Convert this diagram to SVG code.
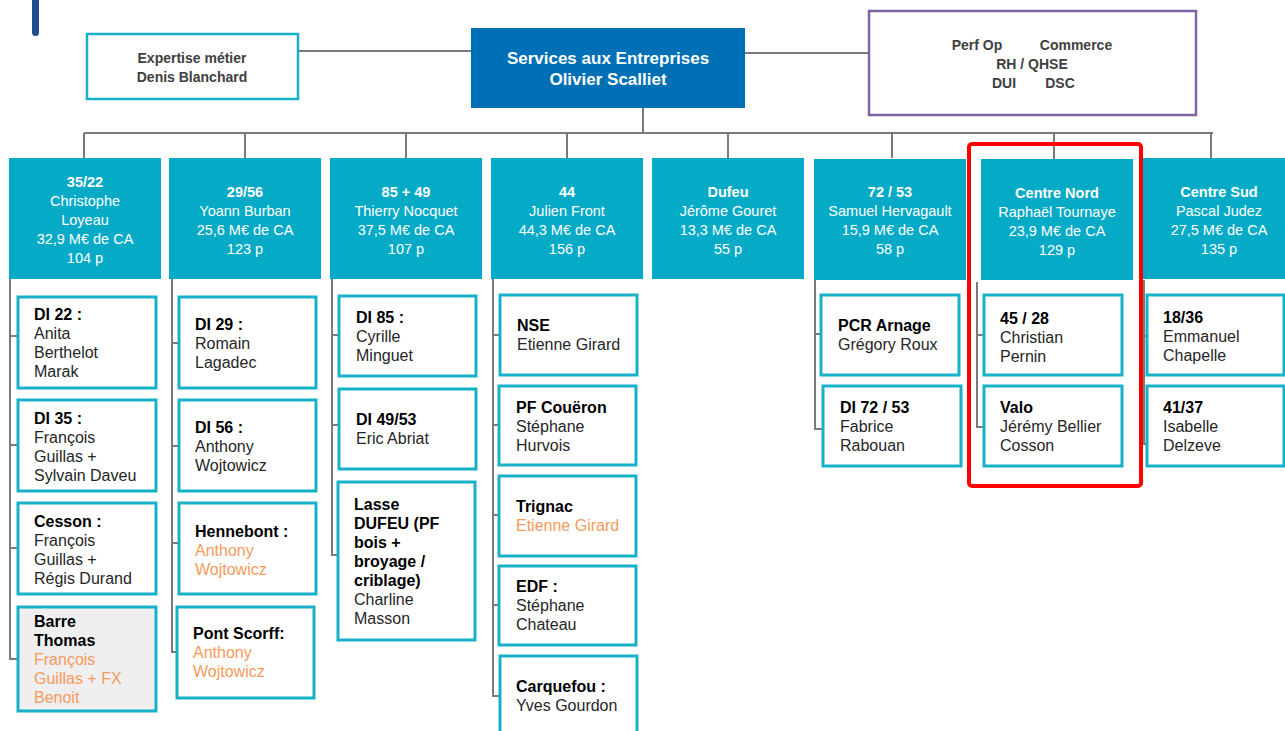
<svg xmlns="http://www.w3.org/2000/svg" width="1285" height="731" viewBox="0 0 1285 731">
<style>
.hd{fill:#05aac6}
.ht{font-family:"Liberation Sans",Arial,sans-serif;font-size:14.5px;fill:#ffffff;text-anchor:middle}
.ht .b{font-weight:bold}
.sb{fill:#ffffff;stroke:#17b1c9;stroke-width:3}
.st{font-family:"Liberation Sans",Arial,sans-serif;font-size:16px;fill:#262626}
.st .b{font-weight:bold;fill:#000000}
.st .o{fill:#f79a5c}
.cn{fill:none;stroke:#7a7a7a;stroke-width:2}
.tt{font-family:"Liberation Sans",Arial,sans-serif;font-size:14px;font-weight:bold;fill:#404040;text-anchor:middle}
</style>
<rect width="1285" height="731" fill="#ffffff"/>
<rect x="32" y="-6" width="7" height="42" rx="3.5" fill="#1f4e8c"/>

<g id="connectors">
<path class="cn" d="M298,51H471M745,53H868M643,108V133M84,133H1213M84,133V158M245,133V158M406,133V158M567,133V158M728,133V158M892,133V158M1054,133V159M1211,133V159"/>
<path class="cn" d="M10,279V659H17M10,336H17M10,445H17M10,548H17"/>
<path class="cn" d="M172,279V652H177M172,343H179M172,446H179M172,543H179"/>
<path class="cn" d="M332,279V555H338M332,335H339M332,425H339"/>
<path class="cn" d="M493,279V696H500M493,335H500M493,425H500M493,515H500M493,605H500"/>
<path class="cn" d="M815,280V429H823M815,334H821"/>
<path class="cn" d="M977,282V427H984M977,335H984"/>
<path class="cn" d="M1144,280V444H1147M1144,336H1147"/>
</g>

<g id="expertise">
<rect x="87" y="34" width="211" height="65" fill="#ffffff" stroke="#17b1c9" stroke-width="2.5"/>
<text class="tt" x="192" y="63">Expertise métier</text>
<text class="tt" x="192" y="82">Denis Blanchard</text>
</g>

<g id="main">
<rect x="471" y="28" width="274" height="80" fill="#0070b6"/>
<text x="608" y="64" font-family="Liberation Sans,Arial,sans-serif" font-size="17" font-weight="bold" fill="#ffffff" text-anchor="middle">Services aux Entreprises</text>
<text x="608" y="85" font-family="Liberation Sans,Arial,sans-serif" font-size="17" font-weight="bold" fill="#ffffff" text-anchor="middle">Olivier Scalliet</text>
</g>

<g id="support">
<rect x="869" y="11" width="327" height="104" fill="#ffffff" stroke="#8064a2" stroke-width="2.5"/>
<text class="tt" x="977" y="50">Perf Op</text>
<text class="tt" x="1076" y="50">Commerce</text>
<text class="tt" x="1032" y="69">RH / QHSE</text>
<text class="tt" x="1004" y="88">DUI</text>
<text class="tt" x="1060" y="88">DSC</text>
</g>

<g id="h1"><rect class="hd" x="9" y="158" width="152" height="121"/>
<text class="ht"><tspan class="b" x="85" y="187">35/22</tspan><tspan x="85" y="206">Christophe</tspan><tspan x="85" y="225">Loyeau</tspan><tspan x="85" y="244">32,9 M€ de CA</tspan><tspan x="85" y="263">104 p</tspan></text></g>
<g id="h2"><rect class="hd" x="169" y="158" width="152" height="121"/>
<text class="ht"><tspan class="b" x="245" y="197">29/56</tspan><tspan x="245" y="216">Yoann Burban</tspan><tspan x="245" y="235">25,6 M€ de CA</tspan><tspan x="245" y="254">123 p</tspan></text></g>
<g id="h3"><rect class="hd" x="330" y="158" width="152" height="121"/>
<text class="ht"><tspan class="b" x="406" y="197">85 + 49</tspan><tspan x="406" y="216">Thierry Nocquet</tspan><tspan x="406" y="235">37,5 M€ de CA</tspan><tspan x="406" y="254">107 p</tspan></text></g>
<g id="h4"><rect class="hd" x="491" y="158" width="152" height="121"/>
<text class="ht"><tspan class="b" x="567" y="197">44</tspan><tspan x="567" y="216">Julien Front</tspan><tspan x="567" y="235">44,3 M€ de CA</tspan><tspan x="567" y="254">156 p</tspan></text></g>
<g id="h5"><rect class="hd" x="652" y="158" width="152" height="121"/>
<text class="ht"><tspan class="b" x="728" y="197">Dufeu</tspan><tspan x="728" y="216">Jérôme Gouret</tspan><tspan x="728" y="235">13,3 M€ de CA</tspan><tspan x="728" y="254">55 p</tspan></text></g>
<g id="h6"><rect class="hd" x="814" y="159" width="152" height="121"/>
<text class="ht"><tspan class="b" x="890" y="197">72 / 53</tspan><tspan x="890" y="216">Samuel Hervagault</tspan><tspan x="890" y="235">15,9 M€ de CA</tspan><tspan x="890" y="254">58 p</tspan></text></g>
<g id="h7"><rect class="hd" x="981" y="159" width="152" height="121"/>
<text class="ht"><tspan class="b" x="1057" y="198">Centre Nord</tspan><tspan x="1057" y="217">Raphaël Tournaye</tspan><tspan x="1057" y="236">23,9 M€ de CA</tspan><tspan x="1057" y="255">129 p</tspan></text></g>
<g id="h8"><rect class="hd" x="1143" y="158" width="152" height="121"/>
<text class="ht"><tspan class="b" x="1219" y="197">Centre Sud</tspan><tspan x="1219" y="216">Pascal Judez</tspan><tspan x="1219" y="235">27,5 M€ de CA</tspan><tspan x="1219" y="254">135 p</tspan></text></g>

<g id="c1a"><rect class="sb" x="18" y="297" width="138" height="91"/>
<text class="st"><tspan class="b" x="34" y="320">DI 22 :</tspan><tspan x="34" y="339">Anita</tspan><tspan x="34" y="358">Berthelot</tspan><tspan x="34" y="377">Marak</tspan></text></g>
<g id="c1b"><rect class="sb" x="18" y="400" width="138" height="91"/>
<text class="st"><tspan class="b" x="34" y="424">DI 35 :</tspan><tspan x="34" y="443">François</tspan><tspan x="34" y="462">Guillas +</tspan><tspan x="34" y="481">Sylvain Daveu</tspan></text></g>
<g id="c1c"><rect class="sb" x="18" y="503" width="138" height="91"/>
<text class="st"><tspan class="b" x="34" y="527">Cesson :</tspan><tspan x="34" y="546">François</tspan><tspan x="34" y="565">Guillas +</tspan><tspan x="34" y="584">Régis Durand</tspan></text></g>
<g id="c1d"><rect class="sb" x="18" y="607" width="138" height="104" style="fill:#efefef"/>
<text class="st"><tspan class="b" x="34" y="627">Barre</tspan><tspan class="b" x="34" y="646">Thomas</tspan><tspan class="o" x="34" y="665">François</tspan><tspan class="o" x="34" y="684">Guillas + FX</tspan><tspan class="o" x="34" y="703">Benoit</tspan></text></g>

<g id="c2a"><rect class="sb" x="179" y="297" width="137" height="91"/>
<text class="st"><tspan class="b" x="195" y="330">DI 29 :</tspan><tspan x="195" y="349">Romain</tspan><tspan x="195" y="368">Lagadec</tspan></text></g>
<g id="c2b"><rect class="sb" x="179" y="400" width="137" height="91"/>
<text class="st"><tspan class="b" x="195" y="433">DI 56 :</tspan><tspan x="195" y="452">Anthony</tspan><tspan x="195" y="471">Wojtowicz</tspan></text></g>
<g id="c2c"><rect class="sb" x="179" y="503" width="137" height="91"/>
<text class="st"><tspan class="b" x="195" y="537">Hennebont :</tspan><tspan class="o" x="195" y="556">Anthony</tspan><tspan class="o" x="195" y="575">Wojtowicz</tspan></text></g>
<g id="c2d"><rect class="sb" x="177" y="607" width="137" height="91"/>
<text class="st"><tspan class="b" x="193" y="639">Pont Scorff:</tspan><tspan class="o" x="193" y="658">Anthony</tspan><tspan class="o" x="193" y="677">Wojtowicz</tspan></text></g>

<g id="c3a"><rect class="sb" x="339" y="296" width="137" height="80"/>
<text class="st"><tspan class="b" x="356" y="323">DI 85 :</tspan><tspan x="356" y="342">Cyrille</tspan><tspan x="356" y="361">Minguet</tspan></text></g>
<g id="c3b"><rect class="sb" x="339" y="389" width="137" height="80"/>
<text class="st"><tspan class="b" x="356" y="425">DI 49/53</tspan><tspan x="356" y="444">Eric Abriat</tspan></text></g>
<g id="c3c"><rect class="sb" x="338" y="482" width="137" height="158"/>
<text class="st"><tspan class="b" x="354" y="510">Lasse</tspan><tspan class="b" x="354" y="529">DUFEU (PF</tspan><tspan class="b" x="354" y="548">bois +</tspan><tspan class="b" x="354" y="567">broyage /</tspan><tspan class="b" x="354" y="586">criblage)</tspan><tspan x="354" y="605">Charline</tspan><tspan x="354" y="624">Masson</tspan></text></g>

<g id="c4a"><rect class="sb" x="500" y="295" width="137" height="80"/>
<text class="st"><tspan class="b" x="517" y="331">NSE</tspan><tspan x="517" y="350">Etienne Girard</tspan></text></g>
<g id="c4b"><rect class="sb" x="499" y="386" width="137" height="79"/>
<text class="st"><tspan class="b" x="516" y="413">PF Couëron</tspan><tspan x="516" y="432">Stéphane</tspan><tspan x="516" y="451">Hurvois</tspan></text></g>
<g id="c4c"><rect class="sb" x="499" y="476" width="137" height="80"/>
<text class="st"><tspan class="b" x="516" y="512">Trignac</tspan><tspan class="o" x="516" y="531">Etienne Girard</tspan></text></g>
<g id="c4d"><rect class="sb" x="499" y="566" width="137" height="79"/>
<text class="st"><tspan class="b" x="516" y="592">EDF :</tspan><tspan x="516" y="611">Stéphane</tspan><tspan x="516" y="630">Chateau</tspan></text></g>
<g id="c4e"><rect class="sb" x="500" y="656" width="137" height="85"/>
<text class="st"><tspan class="b" x="516" y="692">Carquefou :</tspan><tspan x="516" y="711">Yves Gourdon</tspan></text></g>

<g id="c6a"><rect class="sb" x="821" y="295" width="138" height="80"/>
<text class="st"><tspan class="b" x="838" y="331">PCR Arnage</tspan><tspan x="838" y="350">Grégory Roux</tspan></text></g>
<g id="c6b"><rect class="sb" x="823" y="386" width="138" height="80"/>
<text class="st"><tspan class="b" x="840" y="413">DI 72 / 53</tspan><tspan x="840" y="432">Fabrice</tspan><tspan x="840" y="451">Rabouan</tspan></text></g>

<g id="c7a"><rect class="sb" x="984" y="295" width="138" height="80"/>
<text class="st"><tspan class="b" x="1000" y="324">45 / 28</tspan><tspan x="1000" y="343">Christian</tspan><tspan x="1000" y="362">Pernin</tspan></text></g>
<g id="c7b"><rect class="sb" x="984" y="386" width="138" height="80"/>
<text class="st"><tspan class="b" x="1000" y="413">Valo</tspan><tspan x="1000" y="432">Jérémy Bellier</tspan><tspan x="1000" y="451">Cosson</tspan></text></g>

<g id="c8a"><rect class="sb" x="1147" y="295" width="137" height="80"/>
<text class="st"><tspan class="b" x="1163" y="323">18/36</tspan><tspan x="1163" y="342">Emmanuel</tspan><tspan x="1163" y="361">Chapelle</tspan></text></g>
<g id="c8b"><rect class="sb" x="1147" y="386" width="137" height="80"/>
<text class="st"><tspan class="b" x="1163" y="413">41/37</tspan><tspan x="1163" y="432">Isabelle</tspan><tspan x="1163" y="451">Delzeve</tspan></text></g>

<g id="highlight">
<rect x="969" y="144" width="172" height="342" rx="3" fill="none" stroke="#ff0000" stroke-width="4"/>
</g>
</svg>
